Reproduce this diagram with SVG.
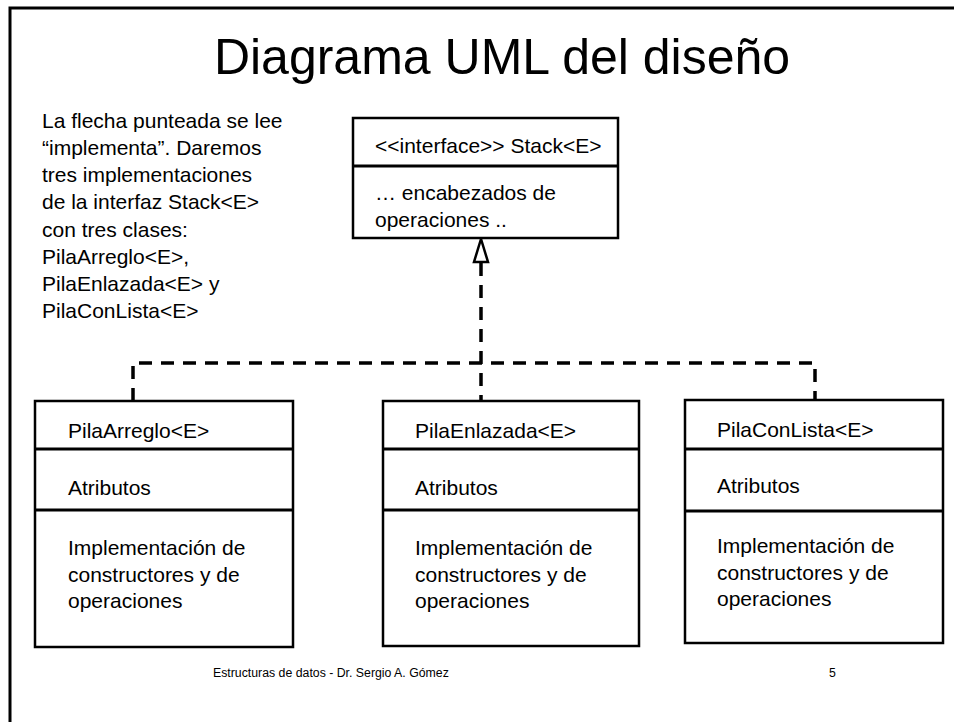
<svg xmlns="http://www.w3.org/2000/svg" width="954" height="722" viewBox="0 0 954 722">
<style>
text{font-family:"Liberation Sans",Arial,sans-serif;fill:#000}
.t{font-size:21px}
.title{font-size:50px;text-anchor:middle}
.foot{font-size:12.3px}
.box{fill:#fff;stroke:#000;stroke-width:2.5}
.div{stroke:#000;stroke-width:3}
.dash{fill:none;stroke:#000;stroke-width:3.5;stroke-dasharray:13 9}
</style>
<rect width="954" height="722" fill="#fff"/>
<path d="M10,722 V8 H954" fill="none" stroke="#000" stroke-width="3"/>
<text class="title" x="502" y="74">Diagrama UML del diseño</text>
<g id="note">
<text class="t" x="42" y="128">La flecha punteada se lee</text>
<text class="t" x="42" y="155">“implementa”. Daremos</text>
<text class="t" x="42" y="182">tres implementaciones</text>
<text class="t" x="42" y="209">de la interfaz Stack&lt;E&gt;</text>
<text class="t" x="42" y="237">con tres clases:</text>
<text class="t" x="42" y="264">PilaArreglo&lt;E&gt;,</text>
<text class="t" x="42" y="291">PilaEnlazada&lt;E&gt; y</text>
<text class="t" x="42" y="318">PilaConLista&lt;E&gt;</text>
</g>
<g id="connectors">
<path class="dash" d="M481,263 V401"/>
<path class="dash" d="M133,401 V363 H815 V401"/>
<polygon points="481,239 474,262 488,262" fill="#fff" stroke="#000" stroke-width="2.5"/>
</g>
<g id="stack">
<rect class="box" x="353" y="118" width="265" height="120"/>
<line class="div" x1="353" y1="166" x2="618" y2="166"/>
<text class="t" x="375" y="153">&lt;&lt;interface&gt;&gt; Stack&lt;E&gt;</text>
<text class="t" x="375" y="200">… encabezados de</text>
<text class="t" x="375" y="227">operaciones ..</text>
</g>
<g id="pilaArreglo">
<rect class="box" x="35" y="401" width="258" height="246"/>
<line class="div" x1="35" y1="449" x2="293" y2="449"/>
<line class="div" x1="35" y1="510" x2="293" y2="510"/>
<text class="t" x="68" y="438">PilaArreglo&lt;E&gt;</text>
<text class="t" x="68" y="495">Atributos</text>
<text class="t" x="68" y="555">Implementación de</text>
<text class="t" x="68" y="582">constructores y de</text>
<text class="t" x="68" y="608">operaciones</text>
</g>
<g id="pilaEnlazada">
<rect class="box" x="383" y="401" width="256" height="245"/>
<line class="div" x1="383" y1="449" x2="639" y2="449"/>
<line class="div" x1="383" y1="510" x2="639" y2="510"/>
<text class="t" x="415" y="438">PilaEnlazada&lt;E&gt;</text>
<text class="t" x="415" y="495">Atributos</text>
<text class="t" x="415" y="555">Implementación de</text>
<text class="t" x="415" y="582">constructores y de</text>
<text class="t" x="415" y="608">operaciones</text>
</g>
<g id="pilaConLista">
<rect class="box" x="685" y="400" width="258" height="243"/>
<line class="div" x1="685" y1="449" x2="943" y2="449"/>
<line class="div" x1="685" y1="511" x2="943" y2="511"/>
<text class="t" x="717" y="437">PilaConLista&lt;E&gt;</text>
<text class="t" x="717" y="493">Atributos</text>
<text class="t" x="717" y="553">Implementación de</text>
<text class="t" x="717" y="580">constructores y de</text>
<text class="t" x="717" y="606">operaciones</text>
</g>
<text class="foot" x="213" y="677">Estructuras de datos - Dr. Sergio A. Gómez</text>
<text class="foot" x="829" y="677">5</text>
</svg>
